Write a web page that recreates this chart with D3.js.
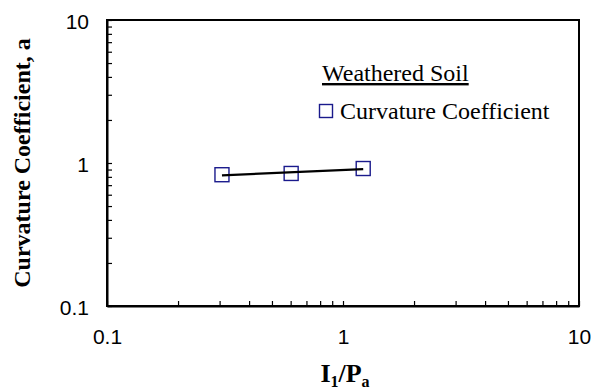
<!DOCTYPE html>
<html>
<head>
<meta charset="utf-8">
<script src="https://cdn.jsdelivr.net/npm/d3@7"></script>
<style>
  html, body { margin: 0; padding: 0; background: #fff; }
  svg { display: block; }
  .serif { font-family: "Liberation Serif", "Times New Roman", Times, serif; }
  .sans { font-family: "Liberation Sans", Arial, Helvetica, sans-serif; }
</style>
</head>
<body>
<svg id="chart" width="598" height="390"></svg>
<script>
// Curvature coefficient a against normalised first stress invariant I1/Pa
const stressRatio = [0.307, 0.603, 1.218];
const curvature = [0.828, 0.845, 0.915];
const majorTicks = [0.1, 1, 10];
const majorTickLabels = ["0.1", "1", "10"];
const legendTitle = "Weathered Soil";
const seriesName = "Curvature Coefficient";

const plot = { left: 107, right: 579, top: 20, bottom: 306 };

const svg = d3.select("#chart");

const x = d3.scaleLog().domain([0.1, 10]).range([plot.left, plot.right]);
const y = d3.scaleLog().domain([0.1, 10]).range([plot.bottom, plot.top]);

// ticks at 1..9 of each decade, plus the top value
const allTicks = [];
[0.1, 1].forEach(base => { for (let k = 1; k <= 9; k++) allTicks.push(+(base * k).toPrecision(3)); });
allTicks.push(10);

const labelFor = d => {
  const i = majorTicks.findIndex(m => Math.abs(m - d) < 1e-9);
  return i >= 0 ? majorTickLabels[i] : "";
};

// plot area frame
svg.append("rect")
  .attr("x", plot.left).attr("y", plot.top)
  .attr("width", plot.right - plot.left).attr("height", plot.bottom - plot.top)
  .attr("fill", "none").attr("stroke", "#000").attr("stroke-width", 2);

const xAxis = svg.append("g")
  .attr("transform", `translate(0,${plot.bottom})`)
  .call(d3.axisBottom(x).tickValues(allTicks).tickFormat(labelFor)
    .tickSizeInner(-5).tickSizeOuter(0).tickPadding(23));

const yAxis = svg.append("g")
  .attr("transform", `translate(${plot.left},0)`)
  .call(d3.axisLeft(y).tickValues(allTicks).tickFormat(labelFor)
    .tickSizeInner(-5).tickSizeOuter(0).tickPadding(18));

[xAxis, yAxis].forEach(g => {
  g.attr("font-family", null).attr("font-size", null);
  g.select(".domain").attr("stroke", "#000").attr("stroke-width", 2);
  g.selectAll(".tick line").attr("stroke", "#000").attr("stroke-width", 1.2);
  g.selectAll(".tick text")
    .attr("class", "sans")
    .attr("fill", "#000")
    .attr("font-size", 21);
});
yAxis.selectAll(".tick text").attr("dy", "0.4em");

// power-law trend fitted to the points (least squares in log-log space)
const lx = stressRatio.map(Math.log10), ly = curvature.map(Math.log10);
const mx = d3.mean(lx), my = d3.mean(ly);
const slope = d3.sum(lx, (v, i) => (v - mx) * (ly[i] - my)) / d3.sum(lx, v => (v - mx) ** 2);
const icpt = my - slope * mx;
const trend = d3.extent(stressRatio).map(v => [v, Math.pow(10, icpt + slope * Math.log10(v))]);

// markers
const ms = 14;
svg.append("g").selectAll("rect")
  .data(stressRatio.map((v, i) => [v, curvature[i]]))
  .join("rect")
  .attr("x", d => x(d[0]) - ms / 2)
  .attr("y", d => y(d[1]) - ms / 2)
  .attr("width", ms).attr("height", ms)
  .attr("fill", "none").attr("stroke", "#1a1a8c").attr("stroke-width", 1.4);

svg.append("path")
  .datum(trend)
  .attr("d", d3.line().x(d => x(d[0])).y(d => y(d[1])))
  .attr("fill", "none").attr("stroke", "#000").attr("stroke-width", 2.2);

// legend
svg.append("text")
  .attr("class", "serif")
  .attr("x", 322).attr("y", 81)
  .attr("font-size", 24)
  .attr("fill", "#000")
  .attr("text-decoration", "underline")
  .text(legendTitle);

svg.append("rect")
  .attr("x", 319.5).attr("y", 104.5).attr("width", 13).attr("height", 13)
  .attr("fill", "none").attr("stroke", "#1a1a8c").attr("stroke-width", 1.4);

svg.append("text")
  .attr("class", "serif")
  .attr("x", 340).attr("y", 119)
  .attr("font-size", 24)
  .attr("fill", "#000")
  .text(seriesName);

// axis titles
svg.append("text")
  .attr("class", "serif")
  .attr("transform", `translate(30,${(plot.top + plot.bottom) / 2}) rotate(-90)`)
  .attr("text-anchor", "middle")
  .attr("font-size", 24).attr("font-weight", "bold")
  .attr("fill", "#000")
  .text("Curvature Coefficient, a");

const xt = svg.append("text")
  .attr("class", "serif")
  .attr("x", 345).attr("y", 382)
  .attr("text-anchor", "middle")
  .attr("font-size", 26).attr("font-weight", "bold")
  .attr("fill", "#000");
xt.append("tspan").text("I");
xt.append("tspan").attr("dy", 5).attr("font-size", 16).text("1");
xt.append("tspan").attr("dy", -5).text("/P");
xt.append("tspan").attr("dy", 5).attr("font-size", 16).text("a");
</script>
</body>
</html>
